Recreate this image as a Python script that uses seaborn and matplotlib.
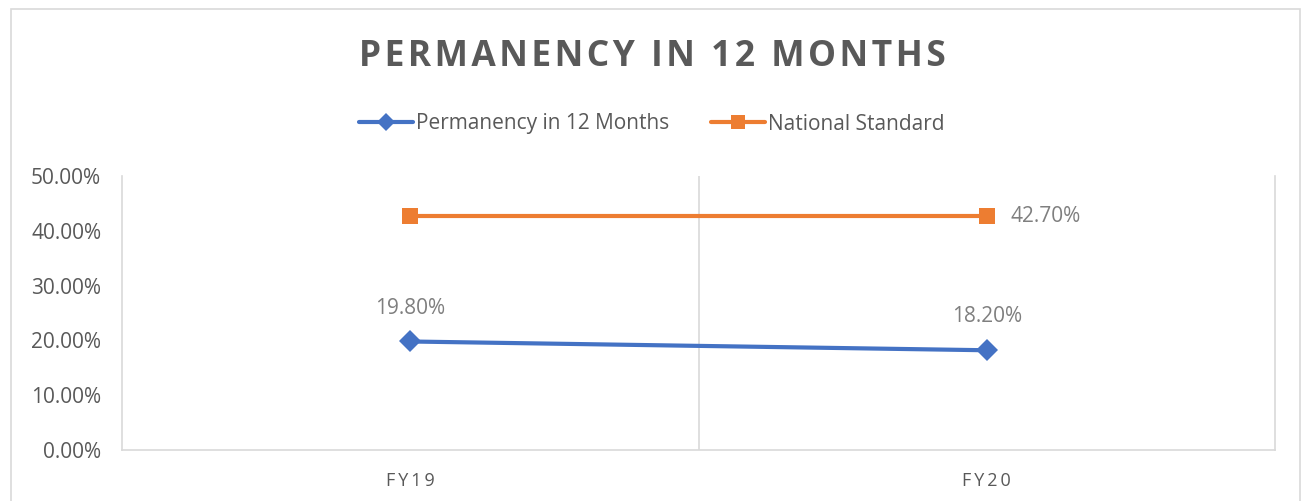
import pandas as pd
import matplotlib.pyplot as plt
import seaborn as sns
from matplotlib.patches import Rectangle

# datos
years = ["FY19", "FY20"]
permanency = [19.8, 18.2]
national_standard = [42.7, 42.7]
series_names = ["Permanency in 12 Months", "National Standard"]
y_ticks = [0, 10, 20, 30, 40, 50]

df = pd.DataFrame({
    "Year": years * 2,
    "Value": permanency + national_standard,
    "Series": [series_names[0]] * 2 + [series_names[1]] * 2,
})

sns.set_style("white")
plt.rcParams['font.family'] = ['Open Sans', 'DejaVu Sans']

gray = "#595959"
label_gray = "#7f7f7f"
grid_gray = "#d9d9d9"
colors = {series_names[0]: "#4472C4", series_names[1]: "#ED7D31"}

fig = plt.figure(figsize=(13.04, 5.01), dpi=100)
ax = fig.add_axes([122 / 1304, 1 - 450 / 501, 1153 / 1304, 274 / 501])

# borde del gráfico
fig.patches.append(Rectangle((11 / 1304, -0.05), 1289 / 1304, 1 - 9 / 501 + 0.05,
                             transform=fig.transFigure, fill=False,
                             edgecolor=grid_gray, lw=1.2))

sns.lineplot(data=df, x="Year", y="Value", hue="Series", style="Series",
             palette=colors, markers={series_names[0]: "D", series_names[1]: "s"},
             dashes=False, markersize=11, linewidth=3, markeredgewidth=0,
             legend=False, ax=ax)

ax.set_xlim(-0.5, 1.5)
ax.set_ylim(0, 50)
ax.set_yticks(y_ticks)
ax.set_yticklabels([f"{v:.2f}%" for v in y_ticks], fontsize=15, color=gray)
ax.set_xticks(range(len(years)))
ax.set_xticklabels(["\u2009".join(y) for y in years], fontsize=13, color=gray)
ax.tick_params(axis="x", length=0, pad=16)
ax.tick_params(axis="y", length=0, pad=15)
ax.set_xlabel("")
ax.set_ylabel("")

ax.spines["top"].set_visible(False)
for side in ["left", "right", "bottom"]:
    ax.spines[side].set_color(grid_gray)
    ax.spines[side].set_linewidth(1.2)
ax.axvline(0.5, color=grid_gray, lw=1.2, zorder=0)

# etiquetas de datos
for i, v in enumerate(permanency):
    ax.annotate(f"{v:.2f}%", (i, v), xytext=(0, 24), textcoords="offset points",
                ha="center", va="center", fontsize=15, color=label_gray)
ax.annotate(f"{national_standard[-1]:.2f}%", (len(years) - 1, national_standard[-1]),
            xytext=(17, 0), textcoords="offset points", ha="left", va="center",
            fontsize=15, color=label_gray)

# leyenda
handles = [plt.Line2D([], [], color=colors[series_names[0]], lw=3, marker="D", markersize=9, markeredgewidth=0),
           plt.Line2D([], [], color=colors[series_names[1]], lw=3, marker="s", markersize=10, markeredgewidth=0)]
fig.legend(handles, series_names, loc="center", bbox_to_anchor=(0.5, 1 - 124 / 501),
           ncol=2, frameon=False, fontsize=15, labelcolor=gray, handlelength=2.6,
           handletextpad=0.15, columnspacing=2.0)

# título
fig.text(0.5, 1 - 57 / 501, "\u200a".join("PERMANENCY IN 12 MONTHS"), ha="center", va="center",
         fontsize=25.5, fontweight="bold", color=gray)

plt.savefig("out.png", dpi=100)
